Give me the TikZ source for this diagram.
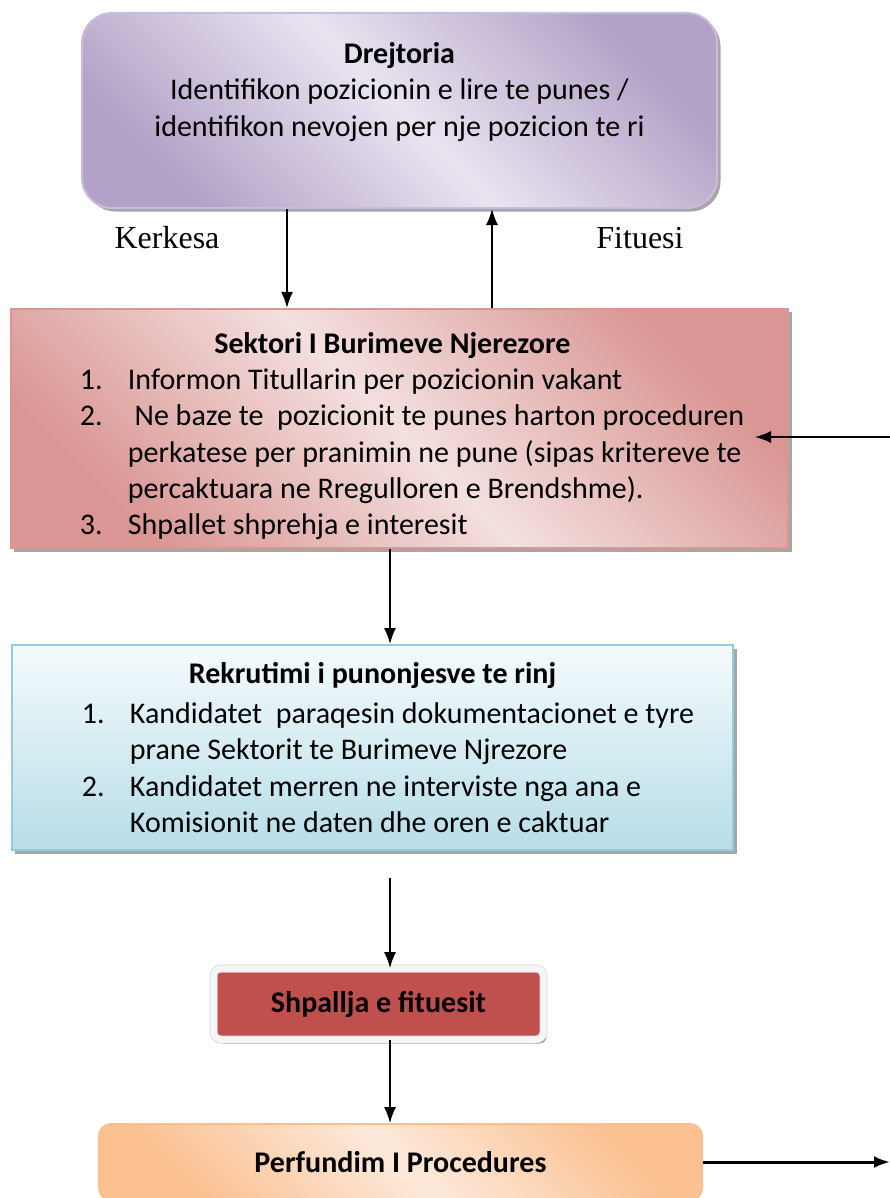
\documentclass[tikz,border=0pt]{standalone}
\usepackage{fontspec}
\setmainfont{Carlito}
\newfontfamily\timesfont{Liberation Serif}
\usetikzlibrary{arrows.meta,shadows}

\definecolor{lilaD}{HTML}{B3A2C7}
\definecolor{lilaL}{HTML}{E9E4F0}
\definecolor{lilaB}{HTML}{C9BDD9}
\definecolor{roseD}{HTML}{D99694}
\definecolor{roseL}{HTML}{F3E0DF}
\definecolor{blueT}{HTML}{F5FBFD}
\definecolor{blueB}{HTML}{B7DDE8}
\definecolor{blueE}{HTML}{93CDDD}
\definecolor{redF}{HTML}{C0504D}
\definecolor{orD}{HTML}{FAC090}
\definecolor{orL}{HTML}{FDEADC}

\newcommand{\nr}[1]{\makebox[19.2pt][l]{#1}}
\newcommand{\cont}{\hspace*{19.2pt}}

\begin{document}
\begin{tikzpicture}[x=0.4pt,y=-0.4pt,
    every node/.style={font=\fontsize{12}{14.5}\selectfont},
    arr/.style={-{Latex[length=6.4pt,width=4.8pt]},line width=0.6pt},
    shd/.style={drop shadow={shadow xshift=1.4pt,shadow yshift=-1.4pt,fill=black!35,opacity=1}},
    drejtbox/.style={shd,draw=lilaB,line width=0.8pt,rounded corners=12pt,top color=lilaD,bottom color=lilaD,middle color=lilaL,shading angle=-45,minimum width=254pt,minimum height=78pt},
    sektorbox/.style={shd,draw=roseD,line width=0.8pt,top color=roseD,bottom color=roseD,middle color=roseL,shading angle=-45,inner xsep=0pt,minimum width=310.8pt,minimum height=94.8pt,align=left},
    rekrutbox/.style={shd,draw=blueE,line width=0.8pt,top color=blueT,bottom color=blueB,inner xsep=0pt,minimum width=288.4pt,minimum height=82pt,align=left},
    shpallbox/.style={drop shadow={shadow xshift=1.2pt,shadow yshift=-1.6pt,fill=redF!45!gray,opacity=1},fill=redF,draw=gray!30,line width=0.3pt,double=gray!8,double distance=2.6pt,rounded corners=3pt,minimum width=132pt,minimum height=28.4pt},
    fundbox/.style={draw=orD,line width=0.8pt,rounded corners=4.8pt,top color=orD,bottom color=orD,middle color=orL,shading angle=-45,minimum width=241.2pt,minimum height=30.4pt},
    lbl/.style={font=\timesfont\fontsize{12.8}{15}\selectfont}]
    \useasboundingbox (0,0) rectangle (890,1198);

    \node[drejtbox] (drejtoria) at (399.5,110.5) {};
    \node[align=center] (drejtext) at (399.5,92) {\textbf{Drejtoria}\\Identifikon pozicionin e lire te punes /\\identifikon nevojen per nje pozicion te ri};

    \node[sektorbox] (sektori) at (399.5,428.5) {\makebox[270pt]{\rule{0pt}{14.5pt}\textbf{Sektori I Burimeve Njerezore}}\\
        \hspace*{10pt}\nr{1.}Informon Titullarin per pozicionin vakant\\
        \hspace*{10pt}\nr{2.}\ Ne baze te\ \ pozicionit te punes harton proceduren\\
        \hspace*{10pt}\cont perkatese per pranimin ne pune (sipas kritereve te\\
        \hspace*{10pt}\cont percaktuara ne Rregulloren e Brendshme).\\
        \hspace*{10pt}\nr{3.}Shpallet shprehja e interesit};

    \node[rekrutbox] (rekrutimi) at (372.5,747.5) {\makebox[264.4pt]{\textbf{Rekrutimi i punonjesve te rinj}}\\[1.5pt]
        \hspace*{16pt}\nr{1.}Kandidatet\ \ paraqesin dokumentacionet e tyre\\
        \hspace*{16pt}\cont prane Sektorit te Burimeve Njrezore\\
        \hspace*{16pt}\nr{2.}Kandidatet merren ne interviste nga ana e\\
        \hspace*{16pt}\cont Komisionit ne daten dhe oren e caktuar};

    \node[shpallbox] (shpallja) at (378.5,1004) {\textbf{Shpallja e fituesit}};
    \node[fundbox] (perfundim) at (400.5,1162) {\textbf{Perfundim I Procedures}};

    \node[lbl] (kerkesa) at (167,238) {Kerkesa};
    \node[lbl] (fituesi) at (640,238) {Fituesi};

    \coordinate (xk) at (287,0);
    \coordinate (xf) at (492,0);
    \coordinate (xm) at (390,0);
    \coordinate (gap) at (390,878);
    \coordinate (hyrje) at (890,437);
    \coordinate (maja) at (755,437);
    \coordinate (dalje) at (890,1162);

    \draw[arr](xk |- drejtoria.south)--(xk |- sektori.north);
    \draw[arr](xf |- sektori.north)--(xf |- drejtoria.south);
    \draw[arr](xm |- sektori.south)--(xm |- rekrutimi.north);
    \draw[arr](gap)--(gap |- shpallja.north);
    \draw[arr](xm |- shpallja.south)--(xm |- perfundim.north);
    \draw[arr](hyrje)--(maja);
    \draw[arr,line width=1.2pt](perfundim.east)--(dalje);
\end{tikzpicture}
\end{document}
